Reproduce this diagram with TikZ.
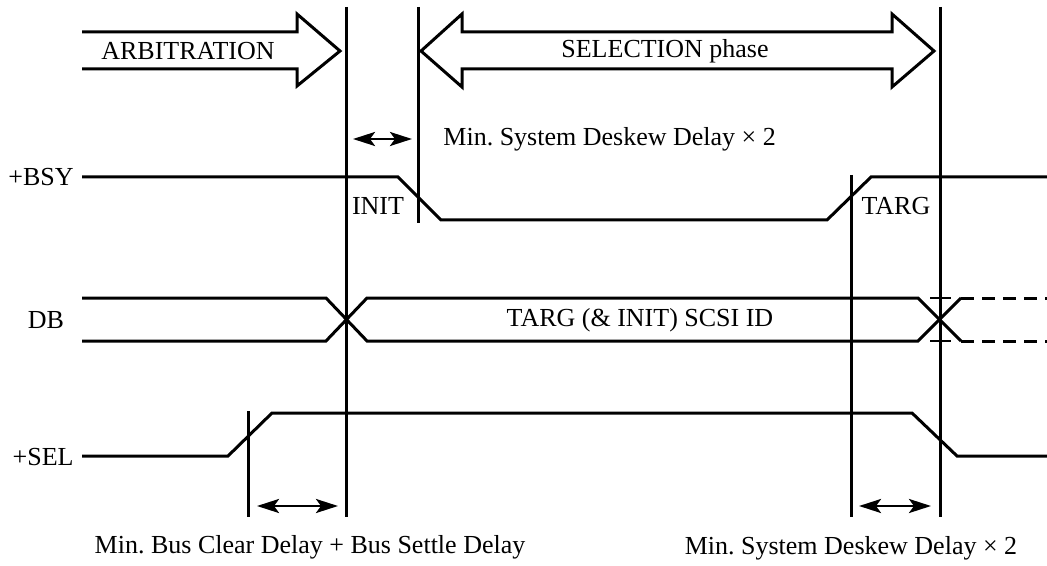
\documentclass[tikz,border=0pt]{standalone}
\usepackage{fontspec}
\setmainfont{Liberation Serif}
\usetikzlibrary{arrows.meta}
\definecolor{BusInk}{RGB}{0, 0, 0}
\frenchspacing

\tikzset{
  signal/.style={line width=1.5pt, BusInk, line join=miter},
  marker/.style={line width=1.5pt, BusInk},
  phasearrow/.style={line width=1.5pt, BusInk, line join=miter},
  span/.style={line width=1.4pt, BusInk,
    {Stealth[length=11pt,width=7pt,inset=2.5pt]}-{Stealth[length=11pt,width=7pt,inset=2.5pt]}},
  caption/.style={font=\fontsize{13}{15}\selectfont, inner sep=0pt, text=BusInk}
}

\begin{document}
\begin{tikzpicture}[x=0.5pt,y=-0.5pt]
\useasboundingbox (0,0) rectangle (1047,566);

% Phase arrows
\draw[phasearrow] (82,32) -- (297,32) -- (297,14) -- (340,51) -- (297,86) -- (297,69) -- (82,69);
\node[caption] (arbitration) at (188,51) {ARBITRATION};
\draw[phasearrow] (421,51) -- (462,14) -- (462,32) -- (892,32) -- (892,14) -- (934,51)
  -- (892,87) -- (892,69) -- (462,69) -- (462,87) -- cycle;
\node[caption] (selection) at (665,51) {SELECTION phase};

% Vertical timing markers
\foreach \x/\ya/\yb in {346/7/517, 418/7/223, 940/7/517, 851/175/517, 248/411/517} {
    \draw[marker] (\x,\ya) -- (\x,\yb);
}

% Signal names
\node[caption, anchor=east] (bsy) at (74,177) {+BSY};
\node[caption] (db) at (46,320) {DB};
\node[caption, anchor=east] (sel) at (74,457) {+SEL};

% +BSY
\draw[signal] (82,177) -- (398,177) -- (441,220) -- (827,220) -- (871,177) -- (1047,177);
\node[caption] (init) at (378,206) {INIT};
\node[caption] (targ) at (896,206) {TARG};

% DB
\draw[signal] (82,298) -- (326,298) -- (367,341) -- (918,341) -- (961,298);
\draw[signal] (82,341) -- (326,341) -- (367,298) -- (918,298) -- (961,341);
\draw[signal, dash pattern=on 6.5pt off 4pt] (961,298) -- (1047,298);
\draw[signal, dash pattern=on 6.5pt off 4pt] (961,341) -- (1047,341);
\draw[line width=1pt] (930,298) -- (951,298);
\draw[line width=1pt] (930,341) -- (951,341);
\node[caption] (scsiid) at (640,320) {TARG (\& INIT) SCSI ID};

% +SEL
\draw[signal] (82,456) -- (228,456) -- (272,413) -- (912,413) -- (957,456) -- (1047,456);

% Delay spans
\coordinate (deskewa) at (353,139);
\coordinate (deskewb) at (412,139);
\draw[span] (deskewa) -- (deskewb);
\node[caption, anchor=west] (deskewtop) at (443,139) {Min. System Deskew Delay × 2};

\coordinate (cleara) at (257,506);
\coordinate (clearb) at (338,506);
\draw[span] (cleara) -- (clearb);
\node[caption] (clearlabel) at (310,547) {Min. Bus Clear Delay + Bus Settle Delay};

\coordinate (targa) at (859,506);
\coordinate (targb) at (931,506);
\draw[span] (targa) -- (targb);
\node[caption] (deskewbottom) at (851,548) {Min. System Deskew Delay × 2};

\end{tikzpicture}
\end{document}
